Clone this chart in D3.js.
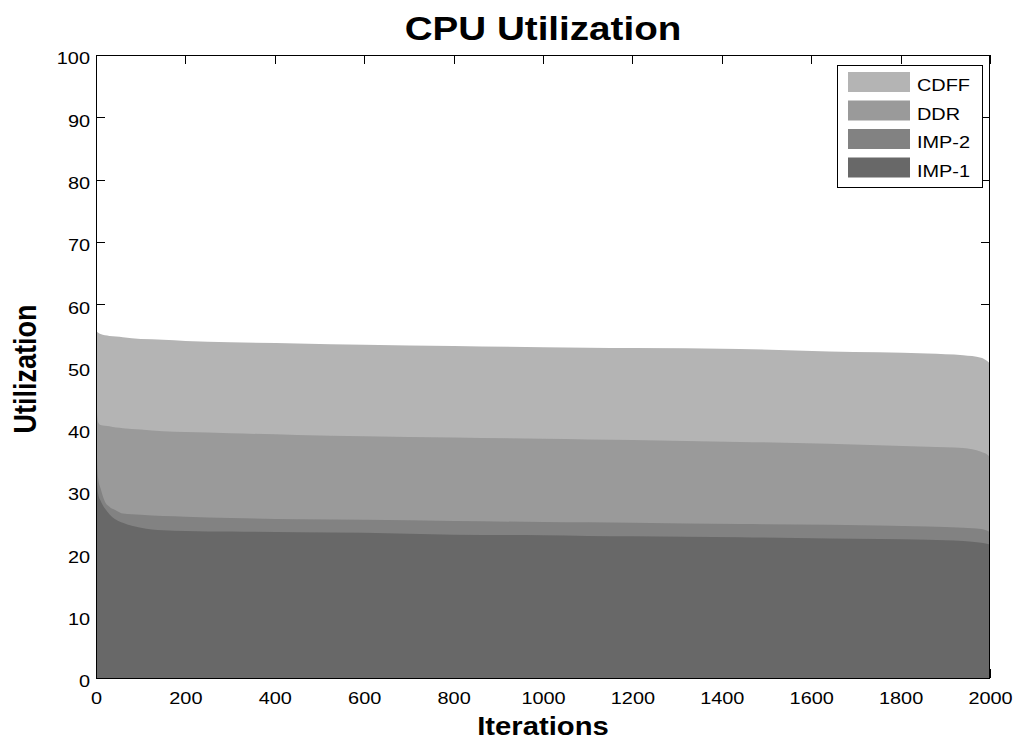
<!DOCTYPE html>
<html>
<head>
<meta charset="utf-8">
<script src="https://cdn.jsdelivr.net/npm/d3@7"></script>
<style>
  html, body { margin: 0; padding: 0; background: #fff; }
  svg { display: block; }
  text { font-family: "Liberation Sans", Arial, Helvetica, sans-serif; fill: #000; }
</style>
</head>
<body>
<svg id="chart" width="1016" height="744"></svg>
<script>
// ---- data ----
const iterations = [0, 2, 5, 10, 20, 30, 45, 60, 100, 150, 200, 300, 450, 600, 800, 1000, 1100, 1200, 1440, 1640, 1860, 1940, 1980, 1995, 2000];
const cdff  = [56.0, 55.6, 55.4, 55.2, 55.0, 54.9, 54.8, 54.7, 54.4, 54.3, 54.1, 53.9, 53.7, 53.5, 53.3, 53.1, 53.0, 52.95, 52.8, 52.4, 52.1, 51.8, 51.4, 50.8, 50.5];
const ddr   = [48.0, 43.0, 41.0, 40.6, 40.5, 40.4, 40.2, 40.1, 39.9, 39.6, 39.5, 39.3, 39.0, 38.8, 38.6, 38.4, 38.3, 38.2, 37.9, 37.6, 37.1, 36.9, 36.3, 35.8, 35.5];
const imp2  = [46.0, 36.0, 32.0, 30.5, 28.3, 27.5, 26.9, 26.4, 26.2, 26.0, 25.9, 25.7, 25.5, 25.4, 25.2, 25.05, 25.0, 24.9, 24.7, 24.6, 24.3, 24.1, 23.9, 23.6, 23.4];
const imp1  = [42.0, 32.0, 29.5, 28.5, 27.2, 26.3, 25.4, 24.9, 24.1, 23.7, 23.6, 23.5, 23.4, 23.3, 23.0, 22.9, 22.8, 22.75, 22.6, 22.4, 22.2, 22.0, 21.7, 21.5, 21.4];
const seriesNames = ["CDFF", "DDR", "IMP-2", "IMP-1"];
const seriesColors = ["#b4b4b4", "#9a9a9a", "#828282", "#686868"];
const xTicks = [0, 200, 400, 600, 800, 1000, 1200, 1400, 1600, 1800, 2000];
const yTicks = [0, 10, 20, 30, 40, 50, 60, 70, 80, 90, 100];

const seriesValues = [cdff, ddr, imp2, imp1];

// ---- layout ----
const svg = d3.select("#chart");
const L = 96, R = 990, T = 55, B = 678;
const x = d3.scaleLinear().domain([0, 2000]).range([L, R]);
const y = d3.scaleLinear().domain([0, 100]).range([B, T]);
const tickLen = 9;
const SX = 1.17; // horizontal stretch of the reference's text

// white plot background
svg.append("rect").attr("x", L).attr("y", T).attr("width", R - L).attr("height", B - T).attr("fill", "#fff");

// inward ticks (drawn under the areas, like the reference)
const tickG = svg.append("g").attr("stroke", "#000").attr("stroke-width", 1);
xTicks.forEach(t => {
  const px = Math.round(x(t)) + 0.5;
  tickG.append("line").attr("x1", px).attr("x2", px).attr("y1", T).attr("y2", T + tickLen);
  tickG.append("line").attr("x1", px).attr("x2", px).attr("y1", B).attr("y2", B - tickLen);
});
yTicks.forEach(t => {
  const py = Math.round(y(t)) + 0.5;
  tickG.append("line").attr("x1", L).attr("x2", L + tickLen).attr("y1", py).attr("y2", py);
  tickG.append("line").attr("x1", R).attr("x2", R - tickLen).attr("y1", py).attr("y2", py);
});

// areas
const area = d3.area()
  .x(d => x(d[0]))
  .y0(y(0))
  .y1(d => y(d[1]))
  .curve(d3.curveMonotoneX);

seriesValues.forEach((vals, i) => {
  const pts = iterations.map((it, j) => [it, vals[j]]);
  svg.append("path").datum(pts).attr("d", area).attr("fill", seriesColors[i]).attr("stroke", "none");
});

// axes via d3 axis generators (labels only)
const xAxis = d3.axisBottom(x).tickValues(xTicks).tickSize(0).tickPadding(14).tickFormat(d3.format("d"));
const gx = svg.append("g").attr("transform", `translate(0,${B})`).call(xAxis);
gx.select(".domain").remove();
gx.selectAll("text").attr("font-size", 17).attr("font-family", "Liberation Sans, Arial, sans-serif")
  .attr("fill", "#000").attr("transform", `scale(${SX},1)`);

const yAxis = d3.axisLeft(y).tickValues(yTicks).tickSize(0).tickPadding(6).tickFormat(d3.format("d"));
const gy = svg.append("g").attr("transform", `translate(${L},0)`).call(yAxis);
gy.select(".domain").remove();
gy.selectAll("text").attr("font-size", 17).attr("font-family", "Liberation Sans, Arial, sans-serif")
  .attr("fill", "#000").attr("dy", "0.52em").attr("x", -6 / SX).attr("transform", `scale(${SX},1)`);
// keep vertical positions after scale (scale only affects x)

// frame
svg.append("rect").attr("x", L + 0.5).attr("y", T + 0.5).attr("width", R - L - 1).attr("height", B - T)
  .attr("fill", "none").attr("stroke", "#000").attr("stroke-width", 1);

// titles
svg.append("text").attr("transform", `translate(543,40) scale(${SX},1)`).attr("text-anchor", "middle")
  .attr("font-size", 33).attr("font-weight", "bold").text("CPU Utilization");
svg.append("text").attr("transform", `translate(543,735) scale(${SX},1)`).attr("text-anchor", "middle")
  .attr("font-size", 25).attr("font-weight", "bold").text("Iterations");
svg.append("text").attr("transform", `translate(36,369) rotate(-90) scale(1,${SX})`).attr("text-anchor", "middle")
  .attr("font-size", 27).attr("font-weight", "bold").text("Utilization");

// legend
const lg = svg.append("g");
lg.append("rect").attr("x", 837.5).attr("y", 65.5).attr("width", 145).attr("height", 122)
  .attr("fill", "#fff").attr("stroke", "#000").attr("stroke-width", 1);
seriesNames.forEach((name, i) => {
  const cy = 82 + i * 28.5;
  lg.append("rect").attr("x", 848).attr("y", cy - 10).attr("width", 62).attr("height", 20).attr("fill", seriesColors[i]);
  lg.append("text").attr("transform", `translate(917,${cy + 9}) scale(${SX},1)`).attr("font-size", 17).text(name);
});
</script>
</body>
</html>
